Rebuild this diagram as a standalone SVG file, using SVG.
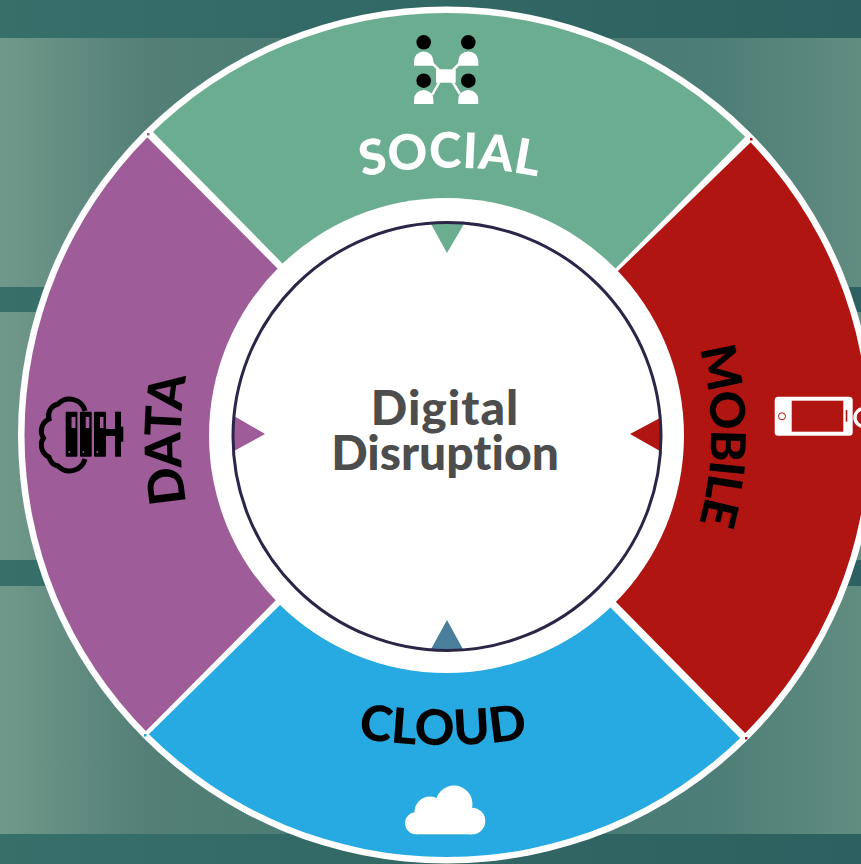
<svg xmlns="http://www.w3.org/2000/svg" width="861" height="864" viewBox="0 0 861 864">
<defs>
<linearGradient id="bg" x1="0" y1="0" x2="861" y2="0" gradientUnits="userSpaceOnUse">
<stop offset="0" stop-color="#71998b"/><stop offset="0.17" stop-color="#537f76"/><stop offset="0.5" stop-color="#457a72"/><stop offset="0.82" stop-color="#4c7d76"/><stop offset="1" stop-color="#618c80"/>
</linearGradient>
<linearGradient id="band" x1="0" y1="0" x2="861" y2="0" gradientUnits="userSpaceOnUse">
<stop offset="0" stop-color="#376f69"/><stop offset="1" stop-color="#2d6060"/>
</linearGradient>
<clipPath id="ring"><circle cx="446.500" cy="435" r="422"/></clipPath>
<path id="pSocial" d="M 340 182 A 430 430 0 0 1 560 182"/>
<path id="pCloud" d="M 340 735 A 535 535 0 0 0 546 735"/>
<path id="pData" d="M 195 540 A 360 360 0 0 1 195 340"/>
<path id="pMobile" d="M 680 298 A 318 318 0 0 1 680 572"/>
</defs>
<style>
.lbl{font-family:"Lato","Liberation Sans",sans-serif;font-weight:900;font-size:49px;font-variant-ligatures:none;text-anchor:middle}
.ctr{font-family:"Lato","Liberation Sans",sans-serif;font-weight:900;font-size:48px;fill:#4d4d4d;text-anchor:middle;font-variant-ligatures:none}
</style>
<rect width="861" height="864" fill="url(#band)"/>
<rect y="38" width="861" height="249" fill="url(#bg)"/>
<rect y="312" width="861" height="248" fill="url(#bg)"/>
<rect y="586" width="861" height="248" fill="url(#bg)"/>
<circle cx="446.500" cy="435" r="428.500" fill="#fff"/>
<g id="social">
<polygon clip-path="url(#ring)" points="446,435 282,263 153,132 120,98 446,-50 780,102 746,136 616,268" fill="#6bad91"/>
</g>
<g id="mobile">
<polygon clip-path="url(#ring)" points="446,435 618,271 751,142 800,95 900,435 790,780 746,734 617,603" fill="#b01512"/>
<rect x="750" y="138" width="2.500" height="2.500" fill="#b01512"/><rect x="745" y="737" width="2.500" height="2.500" fill="#b01512"/>
</g>
<g id="cloud">
<polygon clip-path="url(#ring)" points="446,435 279,606 147,736 100,782 446,900 790,790 742,740 611,608" fill="#27a9e1"/>
<rect x="144" y="734" width="2.500" height="2.500" fill="#27a9e1"/>
</g>
<g id="data">
<polygon clip-path="url(#ring)" points="446,435 277,268 148,138 100,90 0,435 100,778 144,733 275,601" fill="#9e5c98"/>
<rect x="147" y="133" width="2.500" height="2.500" fill="#9e5c98"/>
</g>
<circle cx="446.500" cy="435.500" r="237.500" fill="#fff"/>
<g id="social-label">
<text class="lbl" fill="#fff" style="letter-spacing:0.5px"><textPath href="#pSocial" startOffset="50%">SOCIAL</textPath></text>
<g fill="#000"><circle cx="423.700" cy="42.300" r="7.300"/><circle cx="468.300" cy="42.300" r="7.300"/><circle cx="423.700" cy="80.700" r="7.300"/><circle cx="468.300" cy="80.700" r="7.300"/></g>
<g fill="#fff"><path d="M414 65.700 V61 A9.700 9.500 0 0 1 433.400 61 V65.700Z"/><path d="M458.300 65.700 V61 A10 9.500 0 0 1 478.300 61 V65.700Z"/><path d="M414 104 V99.500 A9.700 9.500 0 0 1 433.400 99.500 V104Z"/><path d="M458.300 104 V99.500 A10 9.500 0 0 1 478.300 99.500 V104Z"/><rect x="436" y="69.300" width="19.700" height="13.400"/></g>
<path d="M432 63 L439 70 M460 63 L453 70 M432 95 L440 81 M460 94 L452 81" stroke="#fff" stroke-width="2.500" fill="none"/>
</g>
<g id="mobile-label">
<text class="lbl" fill="#000" style="font-size:48px;letter-spacing:-1.5px"><textPath href="#pMobile" startOffset="50%">MOBILE</textPath></text>
<rect x="774.700" y="396.700" width="78" height="39" rx="3.500" fill="#fff"/>
<rect x="791.700" y="400.700" width="51.600" height="31" fill="#b01512"/>
<circle cx="782" cy="416.300" r="3.500" fill="none" stroke="#b01512" stroke-width="1"/>
<rect x="845.700" y="410" width="1.600" height="11.700" fill="#b01512"/>
<circle cx="864" cy="417.500" r="9" fill="none" stroke="#fff" stroke-width="3.500"/>
</g>
<g id="cloud-label">
<text class="lbl" fill="#000"><textPath href="#pCloud" startOffset="50%">CLOUD</textPath></text>
<g fill="#fff"><circle cx="416" cy="823.300" r="11"/><circle cx="430" cy="812" r="15.500"/><circle cx="454" cy="804" r="18.500"/><circle cx="472" cy="821" r="13.300"/><rect x="416" y="812" width="56" height="22.300"/></g>
</g>
<g id="data-label">
<text class="lbl" fill="#000" style="font-size:50px;letter-spacing:-1px"><textPath href="#pData" startOffset="50%">DATA</textPath></text>
<path d="M85 411 A 16 16 0 0 0 58 404 A 12 12 0 0 0 49 419 A 13 13 0 0 0 43.500 438 A 13 13 0 0 0 49 457 A 12 12 0 0 0 58 466 A 16 16 0 0 0 85 459" fill="none" stroke="#000" stroke-width="5"/>
<g fill="#000"><rect x="65.700" y="411.700" width="11.700" height="45" rx="1"/><rect x="80" y="411.700" width="11.700" height="45" rx="1"/><rect x="94" y="411.700" width="12" height="45" rx="1"/>
<rect x="115" y="411.700" width="6" height="45"/><rect x="106" y="429" width="10" height="7"/><rect x="115" y="426.700" width="8.300" height="15"/></g>
<g fill="#9e5c98"><rect x="71.500" y="417" width="4" height="11"/><rect x="85.700" y="417" width="3.600" height="11"/><rect x="100" y="417" width="3.500" height="11"/><circle cx="69.300" cy="452" r="1"/><circle cx="83.300" cy="452" r="1"/><circle cx="97.300" cy="452" r="1"/></g>
</g>
<g id="center">
<path d="M431 224 L464 224 L447 253 Z" fill="#6bad91"/>
<path d="M660 418 L660 451 L630 434 Z" fill="#b01512"/>
<path d="M430 651 L464 651 L447 620 Z" fill="#4a7f9c"/>
<path d="M234 416 L234 451 L265 434 Z" fill="#9e5c98"/>
<circle cx="447" cy="436.500" r="214" fill="none" stroke="#2b2547" stroke-width="3"/>
<text class="ctr" x="445" y="425" style="letter-spacing:1px">Digital</text>
<text class="ctr" x="445" y="470">Disruption</text>
</g>
</svg>
